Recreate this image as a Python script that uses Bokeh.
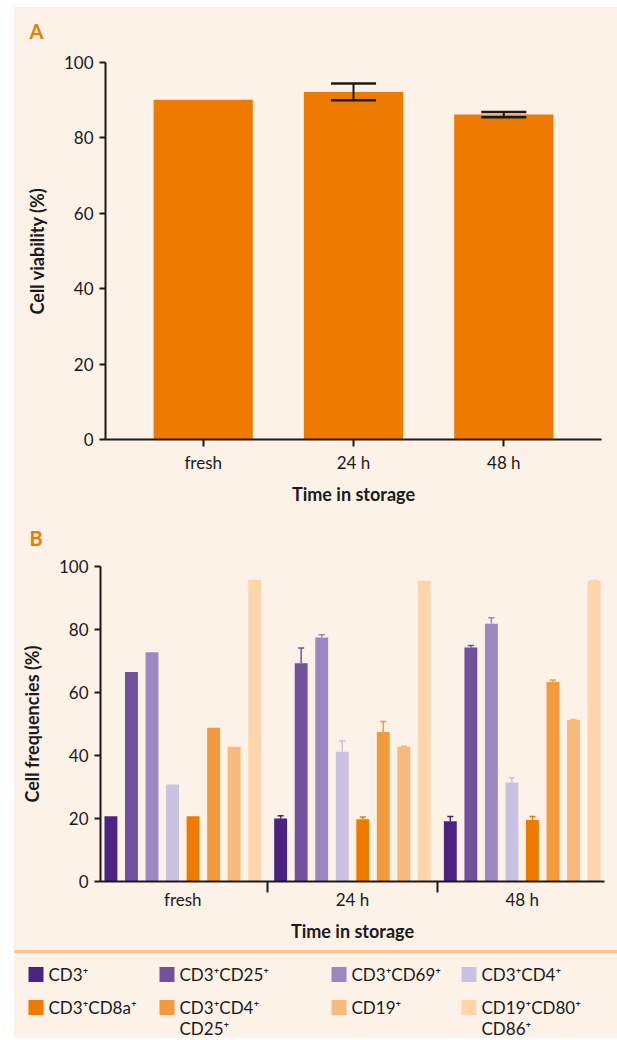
from bokeh.plotting import figure
from bokeh.models import Range1d, FixedTicker, Span, Spacer
from bokeh.layouts import column, row
from bokeh.embed import file_html
from bokeh.resources import INLINE
from bokeh.core.properties import value

BG = "#fdf2e8"
INK = "#1a1a1a"
ORANGE = "#ee7b00"
FONT = "Lato"
W = 603

# ---------------- data: panel A ----------------
times = ["fresh", "24 h", "48 h"]
viability = [90.1, 92.2, 86.2]
viability_err = [None, 2.2, 0.7]

# ---------------- data: panel B ----------------
populations = ["CD3⁺", "CD3⁺CD25⁺", "CD3⁺CD69⁺", "CD3⁺CD4⁺",
               "CD3⁺CD8a⁺", "CD3⁺CD4⁺\nCD25⁺", "CD19⁺", "CD19⁺CD80⁺\nCD86⁺"]
pop_colors = ["#4b2383", "#6f519c", "#9c88c0", "#cbc2e1",
              "#ee7b00", "#f39a3d", "#f7b97c", "#fcd5ad"]
freq_fresh = [20.7, 66.5, 72.8, 30.8, 20.7, 48.8, 42.8, 95.8]
freq_24h = [20.0, 69.3, 77.5, 41.2, 19.8, 47.5, 42.8, 95.5]
freq_48h = [19.1, 74.3, 81.8, 31.4, 19.5, 63.3, 51.3, 95.5]
err_fresh = [None, None, None, None, None, None, None, None]
err_24h = [0.9, 4.8, 0.8, 3.4, 0.7, 3.3, 0.1, None]
err_48h = [1.5, 0.6, 1.9, 1.5, 1.1, 0.7, 0.1, 0.1]


def plain(p):
    p.grid.visible = False
    p.outline_line_color = None
    p.background_fill_color = BG
    p.border_fill_color = BG
    p.title.visible = False


def style_axes(p):
    for ax in (p.xaxis[0], p.yaxis[0]):
        ax.axis_line_color = INK
        ax.axis_line_width = 2
        ax.major_tick_line_color = INK
        ax.major_tick_line_width = 2
        ax.major_tick_in = 0
        ax.major_tick_out = 6
        ax.minor_tick_line_color = None
        ax.major_label_text_font = FONT
        ax.major_label_text_font_size = "17px"
        ax.major_label_text_color = INK
        ax.axis_label_text_font = FONT
        ax.axis_label_text_font_size = "18px"
        ax.axis_label_text_font_style = "bold"
        ax.axis_label_text_color = INK
    plain(p)


def header(letter, h, ty):
    f = figure(width=W, height=h, x_range=Range1d(0, W), y_range=Range1d(h, 0),
               output_backend="svg", toolbar_location=None, x_axis_type=None, y_axis_type=None,
               min_border=0)
    plain(f)
    f.text(x=[15], y=[ty], text=[letter], text_font=value(FONT), text_font_size=value("20px"),
           text_font_style="bold", text_color=ORANGE, text_baseline="middle", text_align="left")
    return f


# ---------------- panel A ----------------
hA = header("A", 40, 23)
pA = figure(width=W, height=472, x_range=Range1d(-0.65, 2.65), y_range=Range1d(0, 100),
            output_backend="svg", toolbar_location=None,
            min_border_left=91, min_border_right=16, min_border_top=15, min_border_bottom=80)
style_axes(pA)
xs_a = list(range(len(times)))
pA.vbar(x=xs_a, top=viability, width=0.66, fill_color=ORANGE, line_color=None)
ex, elo, ehi = [], [], []
for x, v, e in zip(xs_a, viability, viability_err):
    if e is not None:
        ex.append(x); elo.append(v - e); ehi.append(v + e)
pA.segment(x0=ex, y0=elo, x1=ex, y1=ehi, line_color=INK, line_width=2)
pA.segment(x0=[x - 0.15 for x in ex], y0=elo, x1=[x + 0.15 for x in ex], y1=elo, line_color=INK, line_width=2.5)
pA.segment(x0=[x - 0.15 for x in ex], y0=ehi, x1=[x + 0.15 for x in ex], y1=ehi, line_color=INK, line_width=2.5)
pA.xaxis.ticker = FixedTicker(ticks=xs_a)
pA.xaxis.major_label_overrides = {i: t for i, t in enumerate(times)}
pA.xaxis.major_tick_out = 7
pA.xaxis.major_label_standoff = 5
pA.yaxis.ticker = FixedTicker(ticks=[0, 20, 40, 60, 80, 100])
pA.yaxis.major_label_standoff = 6
pA.xaxis.axis_label = "Time in storage"
pA.xaxis.axis_label_standoff = 7
pA.yaxis.axis_label = "Cell viability (%)"
pA.yaxis.axis_label_standoff = 13

# ---------------- panel B ----------------
hB = header("B", 30, 18)
pB = figure(width=W, height=395, x_range=Range1d(-0.485, 2.485), y_range=Range1d(0, 100),
            output_backend="svg", toolbar_location=None,
            min_border_left=86, min_border_right=13, min_border_top=17, min_border_bottom=62)
style_axes(pB)
spacing = 0.121
bw = 0.076
groups = [freq_fresh, freq_24h, freq_48h]
errs = [err_fresh, err_24h, err_48h]
bx, btop, bcol = [], [], []
sx, s0, s1, scol = [], [], [], []
for g, (vals, evals) in enumerate(zip(groups, errs)):
    for i, (v, e) in enumerate(zip(vals, evals)):
        x = g + (i - 3.5) * spacing
        bx.append(x); btop.append(v); bcol.append(pop_colors[i])
        if e is not None:
            sx.append(x); s0.append(v); s1.append(v + e); scol.append(pop_colors[i])
pB.vbar(x=bx, top=btop, width=bw, fill_color=bcol, line_color=None)
pB.segment(x0=sx, y0=s0, x1=sx, y1=s1, line_color=scol, line_width=1.5)
pB.segment(x0=[x - 0.018 for x in sx], y0=s1, x1=[x + 0.018 for x in sx], y1=s1, line_color=scol, line_width=1.5)
pB.xaxis.ticker = FixedTicker(ticks=[0, 1, 2], minor_ticks=[0.5, 1.5])
pB.xaxis.major_label_overrides = {i: t for i, t in enumerate(times)}
pB.xaxis.major_tick_line_color = None
pB.xaxis.major_tick_out = 0
pB.xaxis.minor_tick_line_color = INK
pB.xaxis.minor_tick_line_width = 2
pB.xaxis.minor_tick_in = 0
pB.xaxis.minor_tick_out = 11
pB.xaxis.major_label_standoff = -4
pB.yaxis.ticker = FixedTicker(ticks=[0, 20, 40, 60, 80, 100])
pB.yaxis.major_label_standoff = 6
pB.xaxis.axis_label = "Time in storage"
pB.xaxis.axis_label_standoff = 7
pB.yaxis.axis_label = "Cell frequencies (%)"
pB.yaxis.axis_label_standoff = 13

# ---------------- legend ----------------
pL = figure(width=W, height=94, x_range=Range1d(0, W), y_range=Range1d(94, 0),
            output_backend="svg", toolbar_location=None, x_axis_type=None, y_axis_type=None,
            min_border=0)
plain(pL)
pL.add_layout(Span(location=7, dimension="width", line_color="#f9c28c", line_width=3))
col_x = [14, 145, 317, 447]
row_y = [30, 63]
sw = 15
rx, ry, tx, ty, tt = [], [], [], [], []
for k, lab in enumerate(populations):
    cx = col_x[k % 4]
    cy = row_y[k // 4]
    rx.append(cx + sw / 2); ry.append(cy)
    for j, line in enumerate(lab.split("\n")):
        tx.append(cx + sw + 5); ty.append(cy + j * 21); tt.append(line)
pL.rect(x=rx, y=ry, width=sw, height=sw, fill_color=pop_colors, line_color=None)
pL.text(x=tx, y=ty, text=tt, text_font=value(FONT), text_font_size=value("17px"),
        text_color=INK, text_baseline="middle", text_align="left")

ROW_BG = {"background": "linear-gradient(to right, #ffffff 14px, %s 14px)" % BG}


def band(fig, h):
    return row(Spacer(width=14, height=h), fig, styles=ROW_BG)


layout = column(
    Spacer(width=617, height=7),
    band(hA, 40),
    band(pA, 472),
    band(hB, 30),
    band(pB, 395),
    band(pL, 94),
    spacing=0,
)
open("out.html", "w").write(file_html(layout, INLINE))
